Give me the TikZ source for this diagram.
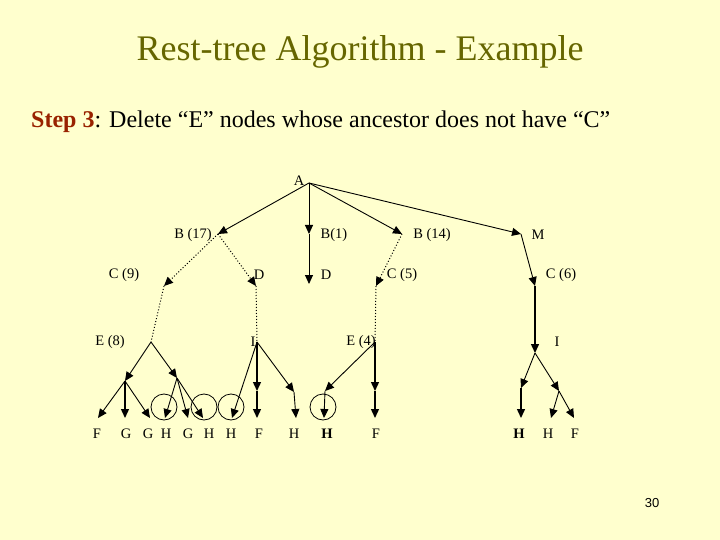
\documentclass[tikz,border=0pt]{standalone}
\usepackage{fontspec}
\setmainfont{Liberation Serif}
\setsansfont{Liberation Sans}
\usetikzlibrary{arrows.meta}
\definecolor{bg}{RGB}{255,255,206}
\definecolor{ttl}{RGB}{102,102,0}
\definecolor{stp}{RGB}{153,34,0}
\begin{document}
\begin{tikzpicture}[x=1pt,y=-1pt,
  lbl/.style={font=\fontsize{14.5}{14.5}\selectfont,inner sep=0pt},
  ar/.style={-{Triangle[length=9pt,width=8pt]},line width=0.9pt},
  thk/.style={-{Triangle[length=9pt,width=8pt]},line width=1.4pt},
  dt/.style={dotted,line width=1pt},
  circ/.style={draw,circle,minimum size=26pt,inner sep=0pt,line width=0.8pt}]
\fill[bg] (0,0) rectangle (720,540);
\useasboundingbox (0,0) rectangle (720,540);
\node[text=ttl,font=\fontsize{36}{36}\selectfont] (title) at (360,52) {Rest-tree Algorithm - Example};
\node[anchor=west,font=\fontsize{24}{24}\selectfont,inner sep=0pt] (step) at (31,122) {\textcolor{stp}{\textbf{Step 3}}: Delete “E” nodes whose ancestor does not have “C”};
\node[font=\sffamily\fontsize{13}{13}\selectfont] (pg) at (652,503) {30};
% labels
\node[lbl] (lA) at (299,181) {A};
\node[lbl] (lB17) at (193,235) {B (17)};
\node[lbl] (lB1) at (334,235) {B(1)};
\node[lbl] (lB14) at (432,235) {B (14)};
\node[lbl] (lM) at (538,235) {M};
\node[lbl] (lC9) at (124,275) {C (9)};
\node[lbl] (lD1) at (259,275) {D};
\node[lbl] (lD2) at (326,275) {D};
\node[lbl] (lC5) at (402,275) {C (5)};
\node[lbl] (lC6) at (561,275) {C (6)};
\node[lbl] (lE8) at (110,342) {E (8)};
\node[lbl] (lI1) at (253,342) {I};
\node[lbl] (lE4) at (361,342) {E (4)};
\node[lbl] (lI2) at (557,342) {I};
\foreach \n/\x/\t in {b1/97/F,b2/126/G,b3/148/G,b4/166/H,b5/188/G,b6/209/H,b7/231/H,b8/259/F,b9/294/H,b10/327/\textbf{H},b11/376/F,b12/519/\textbf{H},b13/548/H,b14/575/F}
  \node[lbl] (\n) at (\x,434) {\t};
% points
\coordinate (A) at (309,183);
\coordinate (B17) at (218,234);
\coordinate (B1) at (309,234);
\coordinate (D2) at (309,284);
\coordinate (B14) at (402,234);
\coordinate (M) at (521,234);
\coordinate (C9) at (164,286);
\coordinate (D1) at (256,286);
\coordinate (C5) at (376,286);
\coordinate (C6) at (535,286);
\coordinate (E8) at (151,342);
\coordinate (I1) at (257,342);
\coordinate (E4) at (375,342);
\coordinate (I2) at (535,353);
\coordinate (L1) at (125,381);
\coordinate (L2) at (177,378);
\coordinate (F1) at (257,391);
\coordinate (H9) at (294,392);
\coordinate (H10) at (325,391);
\coordinate (F11) at (375,391);
\coordinate (H12) at (521,388);
\coordinate (R2) at (559,391);
\foreach \p/\x in {t1/98,t2/125,t3/150,t4/165,t5/188,t6/203,t7/232,t8/257,t9/296,t10/324,t11/375,t12/521,t13/551,t14/574}
  \coordinate (\p) at (\x,418);
% connectors
\draw[ar] (A) -- (B17);
\draw[ar] (A) -- (B1);
\draw[ar] (B1) -- (D2);
\draw[ar] (A) -- (B14);
\draw[ar] (A) -- (M);
\draw[dt,-{Triangle[length=9pt,width=8pt]}] (B17) -- (C9);
\draw[dt,-{Triangle[length=9pt,width=8pt]}] (B17) -- (D1);
\draw[dt,-{Triangle[length=9pt,width=8pt]}] (B14) -- (C5);
\draw[ar] (M) -- (C6);
\draw[dt] (C9) -- (E8);
\draw[dt] (D1) -- (I1);
\draw[dt] (C5) -- (E4);
\draw[thk] (C6) -- (I2);
\draw[ar] (E8) -- (L1);
\draw[ar] (E8) -- (L2);
\draw[ar] (L1) -- (t1);
\draw[thk] (L1) -- (t2);
\draw[ar] (L1) -- (t3);
\draw[ar] (L2) -- (t4);
\draw[ar] (L2) -- (t5);
\draw[ar] (L2) -- (t6);
\draw[ar] (I1) -- (t7);
\draw[thk] (I1) -- (F1);
\draw[thk] (F1) -- (t8);
\draw[ar] (I1) -- (H9);
\draw[ar] (H9) -- (t9);
\draw[ar] (E4) -- (H10);
\draw[ar] (H10) -- (t10);
\draw[thk] (E4) -- (F11);
\draw[thk] (F11) -- (t11);
\draw[ar] (I2) -- (H12);
\draw[thk] (H12) -- (t12);
\draw[ar] (I2) -- (R2);
\draw[ar] (R2) -- (t13);
\draw[ar] (R2) -- (t14);
\node[circ] (c1) at (164,407) {};
\node[circ] (c2) at (204,407) {};
\node[circ] (c3) at (231,407) {};
\node[circ] (c4) at (323,407) {};
\end{tikzpicture}
\end{document}
